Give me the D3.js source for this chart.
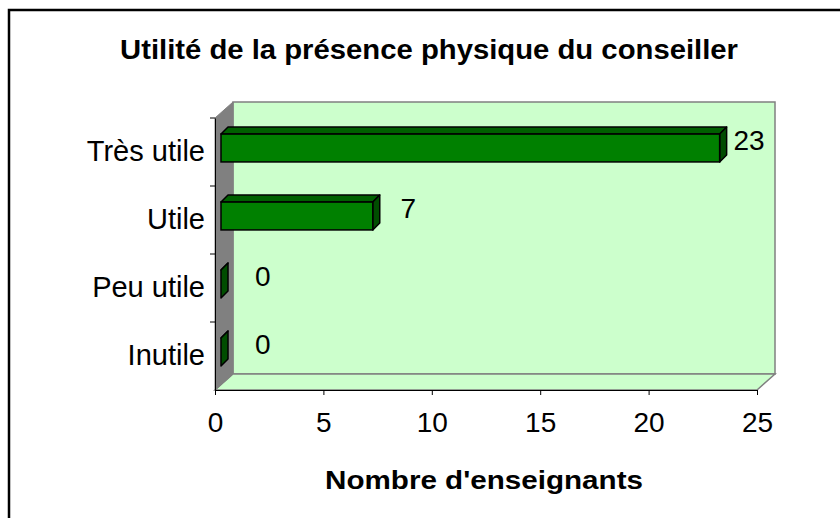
<!DOCTYPE html>
<html>
<head>
<meta charset="utf-8">
<script src="https://cdn.jsdelivr.net/npm/d3@7"></script>
<style>
  body { margin: 0; background: #fff; }
  svg { display: block; font-family: Arial, "Liberation Sans", sans-serif; }
</style>
</head>
<body>
<svg id="chart" width="840" height="518"></svg>
<script>
const categories = ["Très utile", "Utile", "Peu utile", "Inutile"];
const values = [23, 7, 0, 0];
const xTicks = [0, 5, 10, 15, 20, 25];
const title = "Utilité de la présence physique du conseiller";
const xTitle = "Nombre d'enseignants";

const svg = d3.select("#chart");

// plot frame (front plane) and 3D depth
const plot = { left: 215, right: 757, top: 118, bottom: 390 };
const depth = { dx: 18, dy: 16 };
const barShift = { dx: 6, dy: 4 };
const barDepth = 7;

const x = d3.scaleLinear().domain([0, 25]).range([plot.left, plot.right]);
const y = d3.scaleBand().domain(categories).range([plot.top, plot.bottom]).padding(0);
// excel puts the 3D data labels on its own projection
const labelX = d3.scaleLinear().domain([0, 25]).range([255, 775]);

// outer chart border
svg.append("rect")
  .attr("x", 9).attr("y", 10)
  .attr("width", 850).attr("height", 530)
  .attr("fill", "#fff")
  .attr("stroke", "#000")
  .attr("stroke-width", 2.5);

svg.append("text")
  .attr("x", 429).attr("y", 59)
  .attr("text-anchor", "middle")
  .attr("font-size", 27)
  .attr("font-weight", "bold")
  .attr("textLength", 618)
  .attr("lengthAdjust", "spacingAndGlyphs")
  .text(title);

// walls
const bx0 = plot.left + depth.dx, by0 = plot.top - depth.dy;
const bx1 = plot.right + depth.dx, by1 = plot.bottom - depth.dy;

svg.append("rect")
  .attr("x", bx0).attr("y", by0)
  .attr("width", bx1 - bx0).attr("height", by1 - by0)
  .attr("fill", "#ccffcc")
  .attr("stroke", "#808080")
  .attr("stroke-width", 1.5);

svg.append("polygon")
  .attr("points", [[plot.left, plot.bottom], [bx0, by1], [bx1, by1], [plot.right, plot.bottom]].join(" "))
  .attr("fill", "#ccffcc")
  .attr("stroke", "#808080")
  .attr("stroke-width", 1.5);

svg.append("polygon")
  .attr("points", [[plot.left, plot.top], [bx0, by0], [bx0, by1], [plot.left, plot.bottom]].join(" "))
  .attr("fill", "#808080")
  .attr("stroke", "#808080")
  .attr("stroke-width", 1);

// bars
const barH = y.bandwidth() * 0.41;
const bars = svg.selectAll("g.bar")
  .data(categories.map((c, i) => ({ cat: c, value: values[i] })))
  .join("g")
  .attr("class", "bar");

function barGeom(d) {
  const x0 = x(0) + barShift.dx;
  const x1 = x(d.value) + barShift.dx;
  const yt = y(d.cat) + (y.bandwidth() - barH) / 2 - barShift.dy;
  return { x0, x1, yt, yb: yt + barH };
}

bars.append("polygon")
  .attr("points", d => {
    const g = barGeom(d);
    return [[g.x0, g.yt], [g.x0 + barDepth, g.yt - barDepth], [g.x1 + barDepth, g.yt - barDepth], [g.x1, g.yt]].join(" ");
  })
  .attr("fill", "#006000")
  .attr("stroke", "#000")
  .attr("stroke-width", 1.5)
  .attr("stroke-linejoin", "round");

bars.append("polygon")
  .attr("points", d => {
    const g = barGeom(d);
    return [[g.x1, g.yt], [g.x1 + barDepth, g.yt - barDepth], [g.x1 + barDepth, g.yb - barDepth], [g.x1, g.yb]].join(" ");
  })
  .attr("fill", "#004d00")
  .attr("stroke", "#000")
  .attr("stroke-width", 1.5)
  .attr("stroke-linejoin", "round");

bars.filter(d => d.value > 0).append("rect")
  .attr("x", d => barGeom(d).x0)
  .attr("y", d => barGeom(d).yt)
  .attr("width", d => barGeom(d).x1 - barGeom(d).x0)
  .attr("height", barH)
  .attr("fill", "#008000")
  .attr("stroke", "#000")
  .attr("stroke-width", 1.5);

bars.append("text")
  .attr("x", d => labelX(d.value))
  .attr("y", d => y(d.cat) + y.bandwidth() / 2 - 2)
  .attr("font-size", 28)
  .attr("fill", "#000")
  .text(d => d.value);

// x axis
const xAxis = d3.axisBottom(x)
  .tickValues(xTicks)
  .tickSize(5)
  .tickSizeOuter(0)
  .tickPadding(17);

svg.append("g")
  .attr("transform", `translate(0,${plot.bottom})`)
  .call(xAxis)
  .call(g => g.selectAll("text").attr("font-size", 28).attr("font-family", null).attr("fill", "#000"))
  .call(g => g.selectAll("line, path").attr("stroke", "#000"));

// y axis: labels centred on bands, ticks on band edges
const yAxis = d3.axisLeft(y).tickSize(0).tickPadding(10);
svg.append("g")
  .attr("transform", `translate(${plot.left},0)`)
  .call(yAxis)
  .call(g => g.selectAll("text").attr("font-size", 29).attr("font-family", null).attr("fill", "#000"))
  .call(g => g.select(".domain").attr("stroke", "#000"));

svg.append("g")
  .selectAll("line")
  .data(categories.slice(1).concat([null]))
  .join("line")
  .attr("x1", plot.left - 5).attr("x2", plot.left)
  .attr("y1", d => d ? y(d) : plot.top)
  .attr("y2", d => d ? y(d) : plot.top)
  .attr("stroke", "#000");

svg.append("text")
  .attr("x", 484).attr("y", 489)
  .attr("text-anchor", "middle")
  .attr("font-size", 26)
  .attr("font-weight", "bold")
  .attr("textLength", 318)
  .attr("lengthAdjust", "spacingAndGlyphs")
  .text(xTitle);
</script>
</body>
</html>
